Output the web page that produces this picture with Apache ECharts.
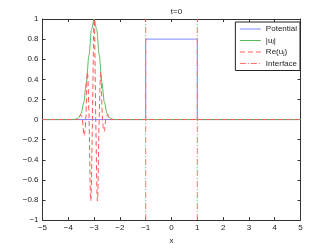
<!DOCTYPE html>
<html><head><meta charset="utf-8">
<script src="https://cdn.jsdelivr.net/npm/echarts@6/dist/echarts.min.js"></script>
<style>html,body{margin:0;padding:0;background:#fff}#c{width:332px;height:250px}</style>
</head><body><div id="c"></div>
<script>
// ---- data ----
const xTicks = [-5,-4,-3,-2,-1,0,1,2,3,4,5];
const potentialX = [-5, -1, -1, 1, 1, 5];
const potentialY = [0, 0, 0.8, 0.8, 0, 0];
const absUX = [-5, -3.9, -3.8, -3.7, -3.6, -3.5, -3.4, -3.3, -3.2, -3.1, -3.0, -2.9, -2.8, -2.7, -2.6, -2.5, -2.4, -2.3, -2.2, -2.1, 5];
const absUY = [0, 0, 0.001, 0.004, 0.018, 0.062, 0.17, 0.37, 0.64, 0.895, 1.0, 0.895, 0.64, 0.37, 0.17, 0.062, 0.018, 0.004, 0.001, 0, 0];
const reUX = [-5, -3.65, -3.585, -3.52, -3.455, -3.39, -3.325, -3.26, -3.195, -3.13, -3.065, -3.0, -2.935, -2.87, -2.805, -2.74, -2.675, -2.61, -2.545, -2.48, -2.415, -2.35, 5];
const reUY = [0, 0, 0, 0.05, 0, -0.16, 0, 0.47, 0, -0.81, 0, 1.0, 0, -0.81, 0, 0.47, 0, -0.12, 0, 0.05, 0, 0, 0];
const interfaceX = [-1, 1];
const yRange = [-1, 1];

const pairs = (xs, ys) => xs.map((x, i) => [x, ys[i]]);
const fmt = v => { const s = String(+(+v).toFixed(1)); return s.replace('-', '\u2212'); };
const font = 'Liberation Sans, Arial, sans-serif';
const axisCol = '#333';

const chart = echarts.init(document.getElementById('c'), null, {renderer: 'canvas'});
const baseX = {type:'value', min:-5, max:5, interval:1, splitLine:{show:false},
  axisLine:{show:true, onZero:false, lineStyle:{color:axisCol, width:1}},
  axisTick:{show:true, inside:true, length:3, lineStyle:{color:axisCol}}};
const baseY = {type:'value', min:-1, max:1, interval:0.2, splitLine:{show:false},
  axisLine:{show:true, onZero:false, lineStyle:{color:axisCol, width:1}},
  axisTick:{show:true, inside:true, length:3, lineStyle:{color:axisCol}}};

const interfaceSeries = interfaceX.map(x => ({
  name:'Interface', type:'line', xAxisIndex:0, yAxisIndex:0, symbol:'none', silent:true,
  data: [[x, yRange[0]], [x, yRange[1]]],
  lineStyle:{color:'#ff7070', width:1, type:[6,2,1,2]}, itemStyle:{color:'#ff7070'}
}));

chart.setOption({
  animation:false,
  title:{text:'t=0', left:171.5, textAlign:'center', top:3,
    textStyle:{fontFamily:font, fontSize:8, fontWeight:'normal', color:'#222'}},
  grid:{left:42.5, right:31.5, top:19, bottom:28.3, containLabel:false},
  xAxis:[
    Object.assign({}, baseX, {position:'bottom', name:'x', nameLocation:'middle', nameGap:15,
      nameTextStyle:{fontFamily:font, fontSize:8, color:'#222'},
      axisLabel:{fontFamily:font, fontSize:8, color:'#222', margin:4, formatter:fmt}}),
    Object.assign({}, baseX, {position:'top', axisLabel:{show:false}})
  ],
  yAxis:[
    Object.assign({}, baseY, {position:'left',
      axisLabel:{fontFamily:font, fontSize:8, color:'#222', margin:4, formatter:fmt}}),
    Object.assign({}, baseY, {position:'right', axisLabel:{show:false}})
  ],
  legend:{right:32, top:22, orient:'vertical', backgroundColor:'#fff',
    borderColor:'#222', borderWidth:1, padding:[3,3,3,4], itemGap:3.5,
    itemWidth:21, itemHeight:8, itemStyle:{opacity:0}, lineStyle:{width:1},
    data:['Potential','|u_j|','Re(u_j)','Interface'],
    formatter: n => n === '|u_j|' ? '|u{s|j}|' : (n === 'Re(u_j)' ? 'Re(u{s|j})' : n),
    textStyle:{fontFamily:font, fontSize:8, color:'#222',
      rich:{s:{fontSize:6, verticalAlign:'bottom', fontFamily:font, color:'#222'}}}},
  series:[
    {name:'Potential', type:'line', symbol:'none', data:pairs(potentialX, potentialY),
      lineStyle:{color:'#7a86ff', width:1}, itemStyle:{color:'#7a86ff'}},
    {name:'|u_j|', type:'line', symbol:'none', smooth:0.3, smoothMonotone:'x', data:pairs(absUX, absUY),
      lineStyle:{color:'#5cb85c', width:1}, itemStyle:{color:'#5cb85c'}},
    {name:'Re(u_j)', type:'line', symbol:'none', smooth:0.4, data:pairs(reUX, reUY),
      lineStyle:{color:'#ff5a5a', width:1, type:[5,3]}, itemStyle:{color:'#ff5a5a'}}
  ].concat(interfaceSeries)
});
</script></body></html>
